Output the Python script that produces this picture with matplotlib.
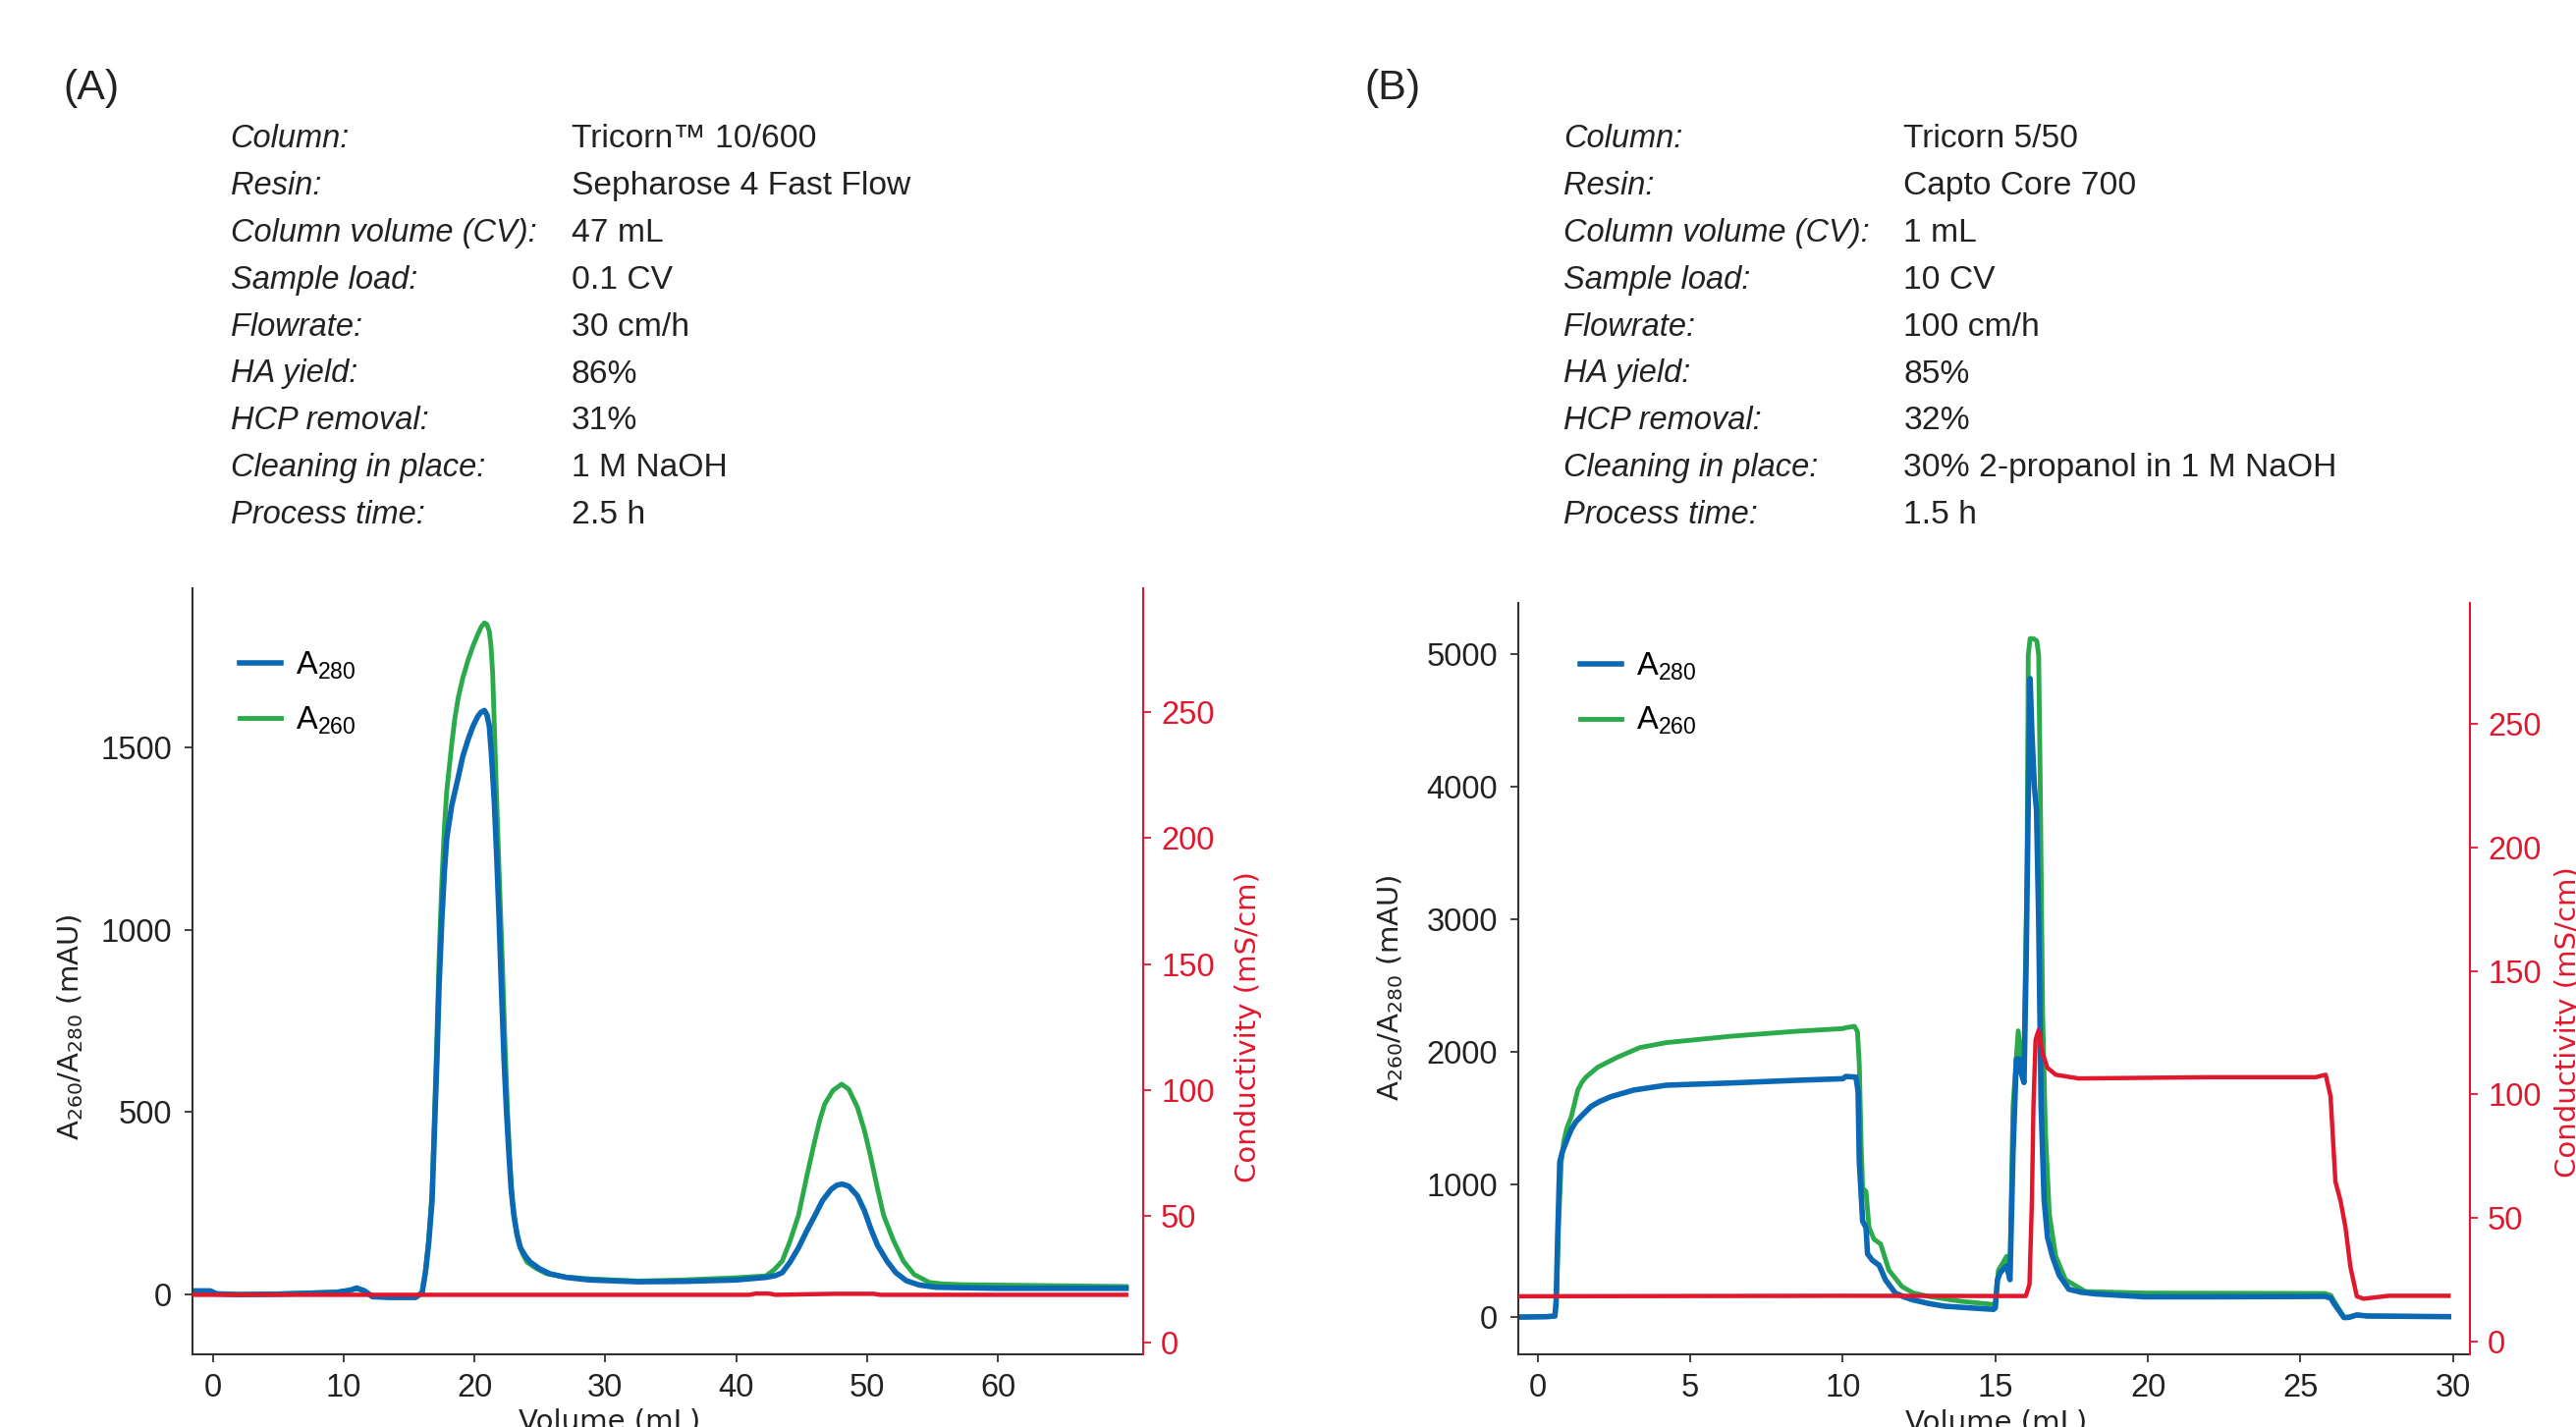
import matplotlib
matplotlib.use("Agg")
import matplotlib.pyplot as plt
from matplotlib import font_manager

# ---------------- data ----------------
# Panel A: Sepharose 4 Fast Flow
a_blue_x = [-1.4, -0.2, 0.3, 2, 5, 7, 9.5, 10.5, 11.0, 11.6, 12.2, 13.5, 15.5, 16.0, 16.26, 16.5,
            16.76, 17.13, 17.3, 17.51, 17.7, 17.88, 18.26, 18.76, 19.1, 19.51, 19.9, 20.26, 20.5,
            20.76, 20.95, 21.13, 21.3, 21.51, 21.7, 21.88, 22.07, 22.26, 22.45, 22.63, 22.8, 23.01,
            23.25, 23.51, 23.9, 24.26, 25.0, 25.76, 27.0, 28.76, 32.5, 36, 40, 42.27, 43.0, 43.52,
            44.1, 44.76, 45.4, 46.02, 46.6, 47.27, 47.7, 48.1, 48.6, 49.26, 49.8, 50.27, 50.8,
            51.52, 52.2, 53.0, 54.0, 55.27, 60, 69.8]
a_blue_y = [10, 10, 2, 0, 1, 3, 6, 12, 18, 10, -6, -8, -8, 5, 63, 140,
            257, 644, 850, 1031, 1160, 1251, 1341, 1419, 1475, 1522, 1560, 1586, 1597,
            1602, 1590, 1560, 1480, 1354, 1200, 1031, 830, 644, 500, 386, 290, 218,
            165, 128, 105, 89, 70, 57, 47, 40, 35, 36, 40, 47, 52, 60,
            88, 128, 175, 217, 258, 289, 300, 303, 297, 271, 230, 182, 135,
            92, 60, 38, 26, 20, 17, 17]
a_green_x = [-1.4, -0.2, 0.3, 2, 5, 7, 9.5, 10.5, 11.0, 11.6, 12.2, 13.5, 15.5, 16.0, 16.26, 16.5,
             16.76, 17.13, 17.3, 17.51, 17.7, 17.88, 18.26, 18.5, 18.76, 19.1, 19.51, 19.9, 20.26,
             20.5, 20.76, 20.95, 21.13, 21.26, 21.39, 21.57, 21.76, 21.95, 22.14, 22.32, 22.51,
             22.7, 22.89, 23.1, 23.39, 23.7, 24.01, 24.7, 25.51, 27.0, 28.76, 32.5, 36, 40, 42.27,
             42.9, 43.52, 44.1, 44.76, 45.4, 46.02, 46.4, 46.77, 47.4, 48.06, 48.6, 49.26, 49.8,
             50.27, 50.8, 51.27, 52.0, 52.77, 53.6, 54.77, 55.8, 57.3, 69.8]
a_green_y = [10, 10, 2, 0, 2, 4, 7, 12, 16, 10, -5, -7, -7, 5, 63, 150,
             283, 709, 930, 1135, 1280, 1380, 1509, 1580, 1637, 1690, 1740, 1780, 1811,
             1830, 1842, 1838, 1819, 1780, 1703, 1500, 1290, 1090, 902, 700, 515,
             370, 257, 195, 141, 110, 89, 72, 57, 48, 43, 37, 40, 46, 51,
             68, 92, 145, 217, 325, 424, 480, 523, 560, 577, 563, 514, 450,
             379, 290, 217, 150, 92, 55, 33, 29, 27, 22]
a_cond_x = [-1.4, 41, 41.5, 42.5, 43, 47.5, 50.5, 51, 69.8]
a_cond_y = [18.8, 18.8, 19.3, 19.3, 18.8, 19.2, 19.2, 18.8, 18.8]

# Panel B: Capto Core 700
b_blue_x = [-0.6, 0.3, 0.56, 0.60, 0.65, 0.72, 0.8, 0.88, 1.0, 1.10, 1.25, 1.42, 1.74, 2.0, 2.39,
            3.14, 4.21, 6.36, 8.50, 10.0, 10.1, 10.43, 10.50, 10.54, 10.65, 10.76, 10.81, 10.97,
            11.19, 11.40, 11.72, 12.0, 12.26, 12.8, 13.33, 14.94, 15.0, 15.07, 15.16, 15.37, 15.48,
            15.58, 15.69, 15.78, 15.85, 15.94, 16.01, 16.09, 16.14, 16.2, 16.28, 16.35, 16.42, 16.5,
            16.6, 16.71, 16.87, 17.09, 17.41, 17.8, 18.27, 19.88, 22.0, 25.0, 25.8, 26.0, 26.1,
            26.43, 26.6, 26.85, 27.2, 29.86]
b_blue_y = [-3, 0, 5, 100, 600, 1168, 1240, 1289, 1360, 1413, 1470, 1511, 1585, 1620, 1659,
            1709, 1746, 1763, 1783, 1795, 1812, 1807, 1700, 1166, 721, 672, 474, 425,
            388, 277, 178, 150, 129, 100, 79, 55, 66, 279, 332, 384, 279,
            1235, 1944, 1944, 1837, 1766, 2653, 4070, 4813, 4400, 3999, 3820, 3000, 1590,
            881, 600, 455, 314, 207, 185, 172, 150, 150, 152, 153, 140, 100,
            -7, -5, 13, 5, 0]
b_green_x = [-0.6, 0.3, 0.56, 0.62, 0.68, 0.77, 0.85, 0.94, 1.10, 1.31, 1.45, 1.58, 1.96, 2.60,
             3.35, 4.21, 6.36, 8.50, 10.0, 10.1, 10.38, 10.48, 10.54, 10.6, 10.65, 10.76, 10.86,
             11.02, 11.24, 11.51, 11.94, 12.30, 12.80, 13.87, 14.94, 15.0, 15.1, 15.37, 15.48,
             15.58, 15.75, 15.85, 15.94, 16.04, 16.08, 16.14, 16.25, 16.36, 16.42, 16.47, 16.55,
             16.64, 16.77, 16.98, 17.3, 17.95, 19.88, 25.8, 26.0, 26.1, 26.43, 26.6, 26.85, 27.2,
             29.86]
b_green_y = [-3, 0, 5, 200, 700, 1168, 1320, 1413, 1511, 1709, 1770, 1807, 1881, 1956,
             2030, 2067, 2116, 2153, 2173, 2180, 2190, 2150, 1900, 1300, 968, 944, 672,
             585, 548, 351, 227, 180, 153, 116, 92, 101, 349, 455, 349,
             1590, 2156, 1944, 2015, 3361, 4990, 5114, 5114, 5097, 4990, 4070, 2298,
             1413, 774, 455, 279, 190, 178, 175, 160, 120, -5, -3, 13, 5,
             0]
b_cond_x = [-0.6, 10, 16.0, 16.12, 16.2, 16.25, 16.32, 16.42, 16.55, 16.71, 16.98, 17.73, 22.0,
            25.5, 25.83, 25.99, 26.15, 26.32, 26.48, 26.64, 26.85, 27.07, 27.9, 29.86]
b_cond_y = [18.3, 18.5, 18.4, 23.1, 57.4, 95.5, 122.2, 126.1, 116.6, 110.8, 108, 106.5, 107,
            107, 108, 99.3, 64.7, 56.8, 46.2, 30.3, 18.3, 17.3, 18.5, 18.5]

info_labels = ["Column:", "Resin:", "Column volume (CV):", "Sample load:", "Flowrate:",
               "HA yield:", "HCP removal:", "Cleaning in place:", "Process time:"]
info_a = ["Tricorn\u2122 10/600", "Sepharose 4 Fast Flow", "47 mL", "0.1 CV", "30 cm/h",
          "86%", "31%", "1 M NaOH", "2.5 h"]
info_b = ["Tricorn 5/50", "Capto Core 700", "1 mL", "10 CV", "100 cm/h",
          "85%", "32%", "30% 2-propanol in 1 M NaOH", "1.5 h"]

a_xticks = [0, 10, 20, 30, 40, 50, 60]
a_yticks = [0, 500, 1000, 1500]
b_xticks = [0, 5, 10, 15, 20, 25, 30]
b_yticks = [0, 1000, 2000, 3000, 4000, 5000]
cond_ticks = [0, 50, 100, 150, 200, 250]

# ---------------- style ----------------
names = {f.name for f in font_manager.fontManager.ttflist}
def pick(*cands):
    for c in cands:
        if c in names:
            return c
    return "DejaVu Sans"

TXT = pick("Liberation Sans", "Arial", "DejaVu Sans")
plt.rcParams["font.family"] = [TXT, "DejaVu Sans"]
plt.rcParams["mathtext.default"] = "regular"

BLUE = "#0a68b4"
GREEN = "#2aaa4a"
RED = "#e0182d"
DARK = "#222222"
SPINE = "#333333"

W, H = 2623, 1453
fig = plt.figure(figsize=(W / 100, H / 100), dpi=100)

TICK_FS = 23.5
LAB_FS = 21

def make_panel(rect, bx, by, gx, gy, cx, cy, xlim, ylim, clim, xticks, yticks,
               leg_anchor, ylab_xy, clab_xy, xlab_xy):
    ax = fig.add_axes(rect)
    ax.plot(gx, gy, color=GREEN, lw=3.5, solid_joinstyle="round", label="A$_{260}$")
    ax.plot(bx, by, color=BLUE, lw=4.0, solid_joinstyle="round", label="A$_{280}$")
    ax.set_xlim(*xlim)
    ax.set_ylim(*ylim)
    ax.set_xticks(xticks)
    ax.set_yticks(yticks)
    for s in ("top", "right"):
        ax.spines[s].set_visible(False)
    for s in ("left", "bottom"):
        ax.spines[s].set_color(SPINE)
        ax.spines[s].set_linewidth(1.5)
    ax.tick_params(axis="both", direction="out", length=6, width=1.3, colors=SPINE,
                   labelcolor=DARK, labelsize=TICK_FS)
    ax.tick_params(axis="x", pad=8)
    ax.tick_params(axis="y", pad=9)

    ax2 = ax.twinx()
    ax2.plot(cx, cy, color=RED, lw=3.2, solid_joinstyle="round")
    ax2.set_ylim(*clim)
    ax2.set_yticks(cond_ticks)
    for s in ("top", "left", "bottom"):
        ax2.spines[s].set_visible(False)
    ax2.spines["right"].set_color(RED)
    ax2.spines["right"].set_linewidth(1.5)
    ax2.tick_params(axis="y", direction="out", length=6, width=1.3, colors=RED,
                    labelcolor=RED, labelsize=TICK_FS, pad=7)

    h = ax.get_legend_handles_labels()
    handles = [h[0][1], h[0][0]]
    labels = [h[1][1], h[1][0]]
    ax.legend(handles, labels, loc="upper left", bbox_to_anchor=leg_anchor, frameon=False,
              fontsize=TICK_FS, handlelength=1.3, handletextpad=0.45, labelspacing=0.72,
              borderpad=0, borderaxespad=0)

    ax.set_ylabel("A$_{260}$/A$_{280}$ (mAU)", fontsize=LAB_FS, color=DARK,
                  family=["DejaVu Sans"])
    ax.yaxis.label.set_verticalalignment("center")
    ax.yaxis.label.set_rotation_mode("default")
    ax.yaxis.set_label_coords(*ylab_xy)

    ax2.set_ylabel("Conductivity (mS/cm)", fontsize=LAB_FS, color=RED, family=["DejaVu Sans"],
                   rotation=90)
    ax2.yaxis.label.set_verticalalignment("center")
    ax2.yaxis.label.set_rotation_mode("default")
    ax2.yaxis.set_label_coords(*clab_xy)

    ax.set_xlabel("Volume (mL)", fontsize=LAB_FS, color=DARK, family=["DejaVu Sans"])
    ax.xaxis.set_label_coords(*xlab_xy)
    return ax, ax2

def rect(l, r, t, b):
    return [l / W, (H - b) / H, (r - l) / W, (b - t) / H]

make_panel(rect(196, 1164, 599, 1379), a_blue_x, a_blue_y, a_green_x, a_green_y,
           a_cond_x, a_cond_y, (-1.55, 71.1), (-164, 1937), (-4.8, 299),
           a_xticks, a_yticks, (0.0496, 0.920), (-0.128, 0.427), (1.1105, 0.427),
           (0.4384, -0.0705))
make_panel(rect(1546, 2515, 614, 1379), b_blue_x, b_blue_y, b_green_x, b_green_y,
           b_cond_x, b_cond_y, (-0.64, 30.56), (-284, 5383), (-5.2, 299),
           b_xticks, b_yticks, (0.065, 0.937), (-0.135, 0.4876), (1.103, 0.442),
           (0.5026, -0.0719))

# ---------------- header text ----------------
INFO_FS = 23.5
VAL_FS = 24.2
fig.text(64 / W, 1 - 90 / H, "(A)", fontsize=31, color=DARK, ha="left", va="center")
fig.text(1389 / W, 1 - 90 / H, "(B)", fontsize=31, color=DARK, ha="left", va="center")
for i, lab in enumerate(info_labels):
    yb = 1 - (150 + 47.9 * i) / H
    fig.text(234.7 / W, yb, lab, fontsize=INFO_FS, style="italic", color=DARK, va="baseline")
    fig.text(581.6 / W, yb, info_a[i], fontsize=VAL_FS, color=DARK, va="baseline")
    fig.text(1592 / W, yb, lab, fontsize=INFO_FS, style="italic", color=DARK, va="baseline")
    fig.text(1938.5 / W, yb, info_b[i], fontsize=VAL_FS, color=DARK, va="baseline")

fig.savefig("out.png", dpi=100, facecolor="white")
